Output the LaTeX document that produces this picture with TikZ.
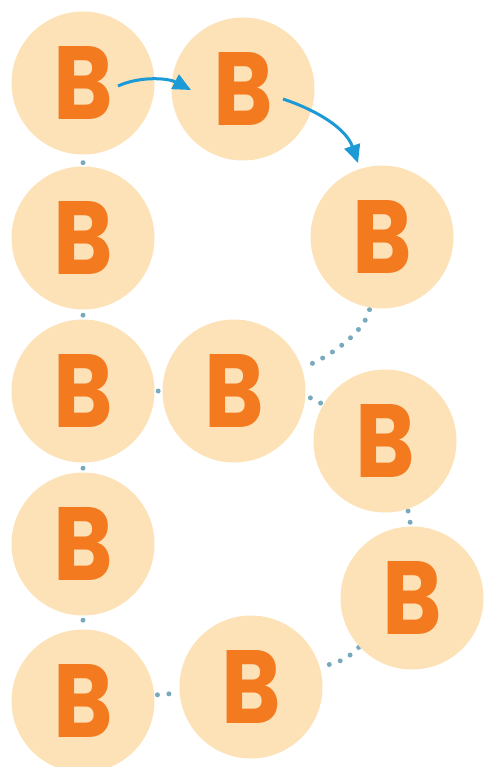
\documentclass[tikz,border=0pt]{standalone}
\usepackage{fontspec}
\newfontfamily\bfont{Poppins}[UprightFont=*-Bold]
\usetikzlibrary{arrows.meta}
\pgfdeclarelayer{background}
\pgfsetlayers{background,main}
\definecolor{peach}{HTML}{FDE2B8}
\definecolor{borange}{HTML}{F47A20}
\definecolor{arrblue}{HTML}{1C9AD6}
\definecolor{dotblue}{HTML}{78A9BD}
\newcommand{\bletter}{\scalebox{0.87}[1]{B}}
\tikzset{
  bcircle/.style={circle, fill=peach, draw=none, inner sep=0pt, minimum size=143pt,
    text=borange, font=\bfont\fontsize{104}{104}\selectfont},
  dotline/.style={dotblue, line width=5pt, line cap=round, dash pattern=on 0pt off 11.5pt},
  flow/.style={arrblue, line width=3pt, -{Triangle[length=18pt,width=16pt]}}
}
\begin{document}
\begin{tikzpicture}[x=1pt, y=-1pt]
\useasboundingbox (0,0) rectangle (484,767);
\node[bcircle] (c1) at (83,83) {\bletter};
\node[bcircle] (c2) at (243,89) {\bletter};
\node[bcircle] (c3) at (382,237) {\bletter};
\node[bcircle] (c4) at (83,238) {\bletter};
\node[bcircle] (c5) at (83,391) {\bletter};
\node[bcircle] (c6) at (234,391) {\bletter};
\node[bcircle] (c7) at (385,441) {\bletter};
\node[bcircle] (c8) at (83,544) {\bletter};
\node[bcircle] (c9) at (412,598) {\bletter};
\node[bcircle] (c10) at (83,701) {\bletter};
\node[bcircle] (c11) at (251,687) {\bletter};
\begin{pgfonlayer}{background}
\draw[dotline, shorten <=8pt] (c1) -- (c4);
\draw[dotline, shorten <=5.5pt] (c4) -- (c5);
\draw[dotline, shorten <=3.5pt] (c5) -- (c6);
\draw[dotline, shorten <=5.5pt] (c5) -- (c8);
\draw[dotline, shorten <=4.5pt] (c8) -- (c10);
\draw[dotline, shorten <=2pt] (c3) .. controls (366,330) and (330,358) .. (c6);
\draw[dotline, shorten <=5pt] (c6) .. controls (312,398) .. (c7);
\draw[dotline, shorten <=2pt] (c7) .. controls (410,517) .. (c9);
\draw[dotline, shorten <=1pt] (c9) .. controls (345,660) .. (c11);
\draw[dotline, shorten <=3pt] (c10) -- (c11);
\end{pgfonlayer}
\coordinate (a1s) at (118,86);
\coordinate (a1e) at (191,90);
\coordinate (a2s) at (283,99);
\coordinate (a2e) at (358,163);
\draw[flow] (a1s) .. controls (140,76) and (168,78) .. (a1e);
\draw[flow] (a2s) .. controls (316,110) and (346,128) .. (a2e);
\end{tikzpicture}
\end{document}
